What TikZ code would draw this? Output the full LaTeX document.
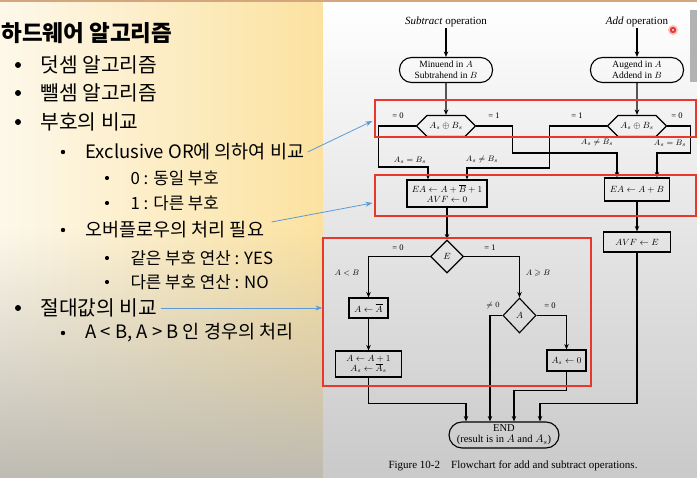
\documentclass[tikz,border=0pt]{standalone}
\usepackage{amsmath, amssymb}
\usepackage{fontspec}
\setmainfont{Liberation Serif}
\newfontfamily\kr{Noto Sans CJK KR}
\usetikzlibrary{positioning, arrows.meta, shapes.geometric, shapes.symbols, fadings}
\definecolor{slideblue}{RGB}{91,155,213}
\definecolor{markred}{RGB}{232,55,44}
\definecolor{creamL}{RGB}{253,248,234}
\definecolor{creamR}{RGB}{252,226,160}
\definecolor{slidefoot}{RGB}{190,187,178}
\definecolor{topline}{RGB}{212,166,126}
\tikzset{
  headline/.style = {anchor=west, font=\kr\bfseries\fontsize{22.5}{26}\selectfont},
  lvone/.style    = {anchor=west, font=\kr\fontsize{20.3}{23}\selectfont},
  lvtwo/.style    = {anchor=west, font=\kr\fontsize{18.5}{21}\selectfont},
  lvthree/.style  = {anchor=west, font=\kr\fontsize{16.8}{19}\selectfont},
  opname/.style   = {inner sep=1pt, font=\fontsize{11}{12}\selectfont},
  term/.style     = {rectangle, rounded corners=12pt, draw, line width=1.1pt, align=center, inner sep=1pt, font=\fontsize{9.5}{10.5}\selectfont},
  proc/.style     = {rectangle, draw, line width=1.1pt, align=center, inner sep=1pt, font=\fontsize{9}{10}\selectfont},
  test/.style     = {diamond, draw, line width=1.1pt, inner sep=0pt, font=\fontsize{9}{10}\selectfont},
  xortest/.style  = {signal, signal to=east and west, draw, line width=1.1pt, inner sep=0pt, minimum width=59pt, minimum height=21pt, font=\fontsize{9}{10}\selectfont},
  lbl/.style      = {inner sep=1pt, font=\fontsize{8.5}{10}\selectfont},
  arr/.style      = {->, >={Stealth[length=5.5pt,width=4.5pt]}, line width=1.3pt},
  redbox/.style   = {rectangle, draw=markred, line width=1.2pt, inner sep=0pt},
  ptr/.style      = {->, >={Stealth[length=7pt,width=5pt]}, draw=slideblue, line width=0.8pt}
}
\begin{document}
\begin{tikzpicture}[x=1pt, y=-1pt]
\useasboundingbox (0,0) rectangle (697,478);
\shade[left color=creamL, right color=creamR] (0,0) rectangle (323,478);
\fill[slidefoot, path fading=north] (0,230) rectangle (323,478);
\shade[top color=white, bottom color=gray!42] (323,0) rectangle (697,478);
\fill[gray!60] (690,10) rectangle (697,82);
\fill[topline] (0,0) rectangle (697,2.5);
\fill[red!25] (673,30) circle (5pt);
\draw[markred, line width=1.8pt] (673,30) circle (2.2pt);

\node[opname] (subOp) at (446,22) {\textit{Subtract} operation};
\node[opname] (addOp) at (637,22) {\textit{Add} operation};
\node[term, minimum width=93pt, minimum height=25pt] (subIn) at (446,70) {Minuend in $A$\\Subtrahend in $B$};
\node[term, minimum width=93pt, minimum height=25pt] (addIn) at (637,70) {Augend in $A$\\Addend in $B$};
\node[xortest] (subXor) at (446,126) {$A_s \oplus B_s$};
\node[xortest] (addXor) at (637,126) {$A_s \oplus B_s$};
\node[proc, minimum width=80pt, minimum height=27pt] (subSum) at (447,193.5) {$EA \leftarrow A+\overline{B}+1$\\$AVF \leftarrow 0$};
\node[proc, minimum width=65pt, minimum height=23pt] (addSum) at (637,189.5) {$EA \leftarrow A+B$};
\node[test, minimum width=33pt, minimum height=33pt] (testE) at (447,256.5) {$E$};
\node[proc, minimum width=67pt, minimum height=20pt] (setAvf) at (637,242) {$AVF \leftarrow E$};
\node[proc, minimum width=39pt, minimum height=20pt] (cmpA) at (368.5,308) {$A \leftarrow \overline{A}$};
\node[proc, minimum width=66pt, minimum height=26pt] (incA) at (368.5,364) {$A \leftarrow A+1$\\$A_s \leftarrow \overline{A}_s$};
\node[test, minimum width=33pt, minimum height=35pt] (testA) at (519.5,315.5) {$A$};
\node[proc, minimum width=39pt, minimum height=21pt] (clrAs) at (566.5,360.5) {$A_s \leftarrow 0$};
\node[term, rounded corners=13pt, minimum width=110pt, minimum height=26pt, font=\fontsize{10.5}{11}\selectfont] (done) at (504,435) {END\\(result is in $A$ and $A_s$)};
\node[opname] (caption) at (513,466) {Figure 10-2\quad Flowchart for add and subtract operations.};

\draw[arr] (subOp) -- (subIn);
\draw[arr] (addOp) -- (addIn);
\draw[arr] (subIn) -- (subXor);
\draw[arr] (addIn) -- (addXor);
\draw[arr] (subXor.west) -| ++(-37,41) -| ([xshift=-19pt]subSum.north);
\draw[arr] (subXor.east) -| ++(36.5,27) -| ([xshift=-20pt]addSum.north);
\draw[arr] (addXor.west) -| ++(-57.5,42) -| ([xshift=20pt]subSum.north);
\draw[arr] (addXor.east) -| ++(23.5,27) -| ([xshift=20pt]addSum.north);
\draw[arr] (subSum) -- (testE);
\draw[arr] (addSum) -- (setAvf);
\draw[arr] (testE.west) -| (cmpA.north);
\draw[arr] (testE.east) -| (testA.north);
\draw[arr] (cmpA) -- (incA);
\draw[arr] (testA.west) -| ([xshift=-14pt]done.north);
\draw[arr] (testA.east) -| (clrAs.north);
\draw[arr] (incA.south) -- ++(0,26) -| ([xshift=-38pt]done.north);
\draw[arr] (clrAs.south) -- ++(0,19) -| ([xshift=10pt]done.north);
\draw[arr] (setAvf.south) -- ++(0,151) -| ([xshift=36pt]done.north);

\node[lbl] (sZero) at (398,116) {= 0};
\node[lbl] (sOne) at (494,116) {= 1};
\node[lbl] (aOne) at (577,116) {= 1};
\node[lbl] (aZero) at (677,116) {= 0};
\node[lbl] (sEq) at (410,160) {$A_s = B_s$};
\node[lbl] (sNe) at (482,160) {$A_s \neq B_s$};
\node[lbl] (aNe) at (597,143) {$A_s \neq B_s$};
\node[lbl] (aEq) at (670,143) {$A_s = B_s$};
\node[lbl] (eZero) at (398,248) {= 0};
\node[lbl] (eOne) at (490,248) {= 1};
\node[lbl] (aLess) at (347,273) {$A < B$};
\node[lbl] (aMore) at (538,273) {$A \geqslant B$};
\node[lbl] (nzA) at (493,306) {$\neq 0$};
\node[lbl] (zA) at (550,306) {= 0};

\node[redbox, minimum width=321pt, minimum height=37pt] (grpSign) at (535.5,118.5) {};
\node[redbox, minimum width=321pt, minimum height=41pt] (grpOvf) at (535.5,195.5) {};
\node[redbox, minimum width=268pt, minimum height=148pt] (grpAbs) at (457,312) {};

\node[headline] (hwTxt) at (-2,33) {하드웨어 알고리즘};
\node[lvone] (addTxt) at (37,65) {덧셈 알고리즘};
\node[lvone] (subTxt) at (37,93) {뺄셈 알고리즘};
\node[lvone] (signTxt) at (37,122) {부호의 비교};
\node[lvtwo] (xorTxt) at (82,152) {Exclusive OR에 의하여 비교};
\node[lvthree] (sameTxt) at (127,178) {0 : 동일 부호};
\node[lvthree] (diffTxt) at (127,203) {1 : 다른 부호};
\node[lvtwo] (ovfTxt) at (82,230) {오버플로우의 처리 필요};
\node[lvthree] (yesTxt) at (127,258) {같은 부호 연산 : YES};
\node[lvthree] (noTxt) at (127,282) {다른 부호 연산 : NO};
\node[lvone] (absTxt) at (37,308) {절대값의 비교};
\node[lvtwo] (caseTxt) at (82,333) {A < B, A > B 인 경우의 처리};
\foreach \by in {65,93,122,308} \fill (18,\by) circle (3pt);
\foreach \by in {152,230,333} \fill (63,\by) circle (2.2pt);
\foreach \by in {178,203,258,282} \fill (107,\by) circle (2.1pt);

\draw[ptr] (xorTxt.east) -- ([xshift=-2pt,yshift=-2.5pt]grpSign.west);
\draw[ptr] ([xshift=4pt,yshift=8pt]ovfTxt.east) -- ([xshift=-2pt,yshift=-7.5pt]grpOvf.west);
\draw[ptr] (absTxt.east) -- (absTxt.east -| grpAbs.west);
\end{tikzpicture}
\end{document}
